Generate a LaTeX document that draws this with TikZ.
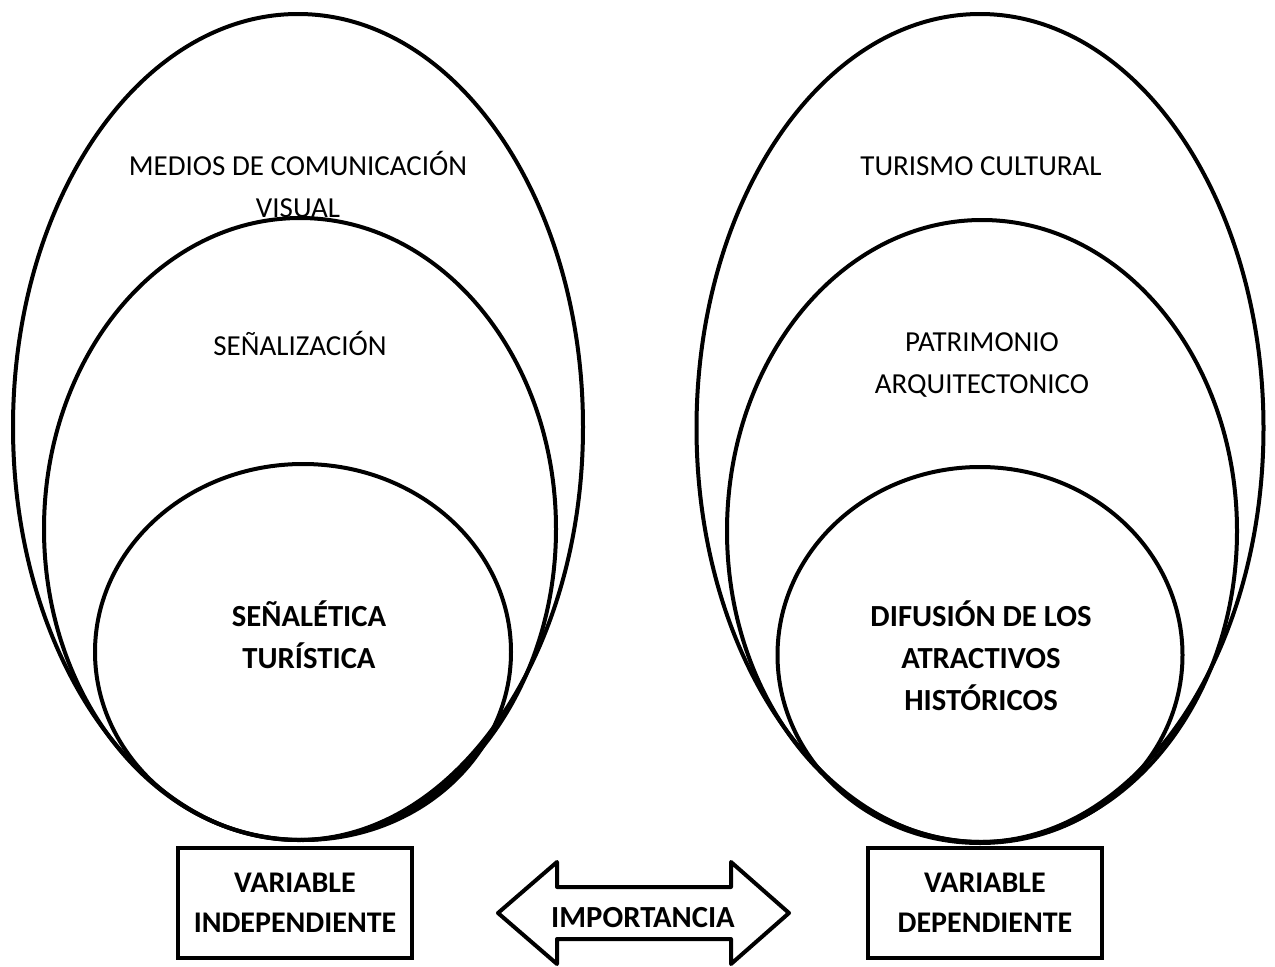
\documentclass[tikz,border=0pt]{standalone}
\usepackage{fontspec}
\setmainfont{Carlito}
\usetikzlibrary{shapes.geometric}
\begin{document}
\begin{tikzpicture}[x=0.75pt,y=-0.75pt,
  oval/.style={draw, ellipse, line width=3pt, inner sep=0pt, outer sep=0pt},
  lbl/.style={align=center, font=\fontsize{21.75}{31.5}\selectfont, inner sep=0pt},
  blbl/.style={align=center, font=\fontsize{23}{31.5}\selectfont\bfseries, inner sep=0pt},
  vbox/.style={draw, line width=3pt, minimum width=234*0.75pt, minimum height=110*0.75pt, inner sep=0pt, align=center, font=\fontsize{22.5}{30}\selectfont\bfseries},
  dbl/.style={draw, line width=3pt, line join=round}
]
\useasboundingbox (0,0) rectangle (1275,967);
% left group
\node[oval, minimum width=570*0.75pt, minimum height=826*0.75pt] (lo) at (298,427) {};
\node[oval, minimum width=512*0.75pt, minimum height=622*0.75pt] (lm) at (300,529) {};
\node[oval, minimum width=416*0.75pt, minimum height=376*0.75pt] (li) at (303,652) {};
% right group
\node[oval, minimum width=567*0.75pt, minimum height=828*0.75pt] (ro) at (980,428) {};
\node[oval, minimum width=510*0.75pt, minimum height=622*0.75pt] (rm) at (982,531) {};
\node[oval, minimum width=405*0.75pt, minimum height=376*0.75pt] (ri) at (980,655) {};
% labels
\node[lbl] (tlo) at (298,184) {MEDIOS DE COMUNICACIÓN\\VISUAL};
\node[lbl] (tlm) at (300,343) {SEÑALIZACIÓN};
\node[blbl] (tli) at (309,635) {SEÑALÉTICA\\TURÍSTICA};
\node[lbl] (tro) at (981,166) {TURISMO CULTURAL};
\node[lbl] (trm) at (982,365) {PATRIMONIO\\ARQUITECTONICO};
\node[blbl] (tri) at (981,656) {DIFUSIÓN DE LOS\\ATRACTIVOS\\HISTÓRICOS};
% boxes
\node[vbox] (vi) at (295,903) {VARIABLE\\INDEPENDIENTE};
\node[vbox] (vd) at (985,903) {VARIABLE\\DEPENDIENTE};
% double arrow
\draw[dbl] (498,913) -- (557,862) -- (557,887) -- (731,887) -- (731,862) -- (789,913)
  -- (731,964) -- (731,939) -- (557,939) -- (557,964) -- cycle;
\node[blbl] (imp) at (643,918) {IMPORTANCIA};
\end{tikzpicture}
\end{document}
